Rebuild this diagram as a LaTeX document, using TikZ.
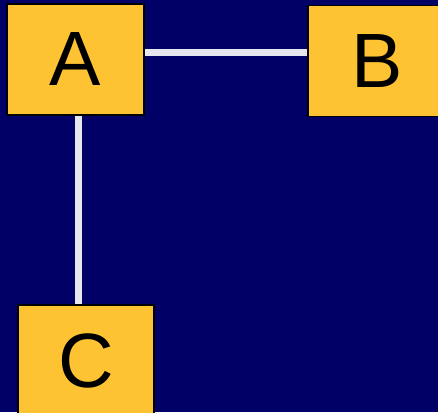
\documentclass[tikz,border=0pt]{standalone}
\usepackage{fontspec}
\setmainfont{Liberation Sans}
\pgfdeclarelayer{bg}
\pgfdeclarelayer{links}
\pgfsetlayers{bg,links,main}
\definecolor{navy}{HTML}{000066}
\definecolor{boxfill}{HTML}{FEC332}
\definecolor{linkgray}{HTML}{E6E6EE}
\tikzset{
  box/.style={draw=black, line width=1.3pt, fill=boxfill, rectangle,
    minimum width=137pt, minimum height=111pt, inner sep=0pt,
    font=\fontsize{77}{80}\selectfont},
  link/.style={draw=linkgray, line width=7pt}
}
\begin{document}
\begin{tikzpicture}[x=1pt, y=-1pt]
  \useasboundingbox (0,0) rectangle (438,412);
  \begin{pgfonlayer}{bg}
    \fill[navy] (0,0) rectangle (438,412);
  \end{pgfonlayer}
  \clip (0,0) rectangle (438,412);
  \node[box] (A) at (75.5,59.5) {A};
  \node[box, minimum width=139pt] (B) at (377.5,61) {B};
  \node[box, minimum width=136pt] (C) at (86,360.5) {C};
  \begin{pgfonlayer}{links}
    % canvas shifts: positive yshift moves up on the page
    \draw[link] ([yshift=7.5pt]A.east) -- ([yshift=7.5pt]A.east -| B.west);
    \draw[link] ([xshift=3pt]A.south) -- ([xshift=3pt]A.south |- C.north);
  \end{pgfonlayer}
\end{tikzpicture}
\end{document}
